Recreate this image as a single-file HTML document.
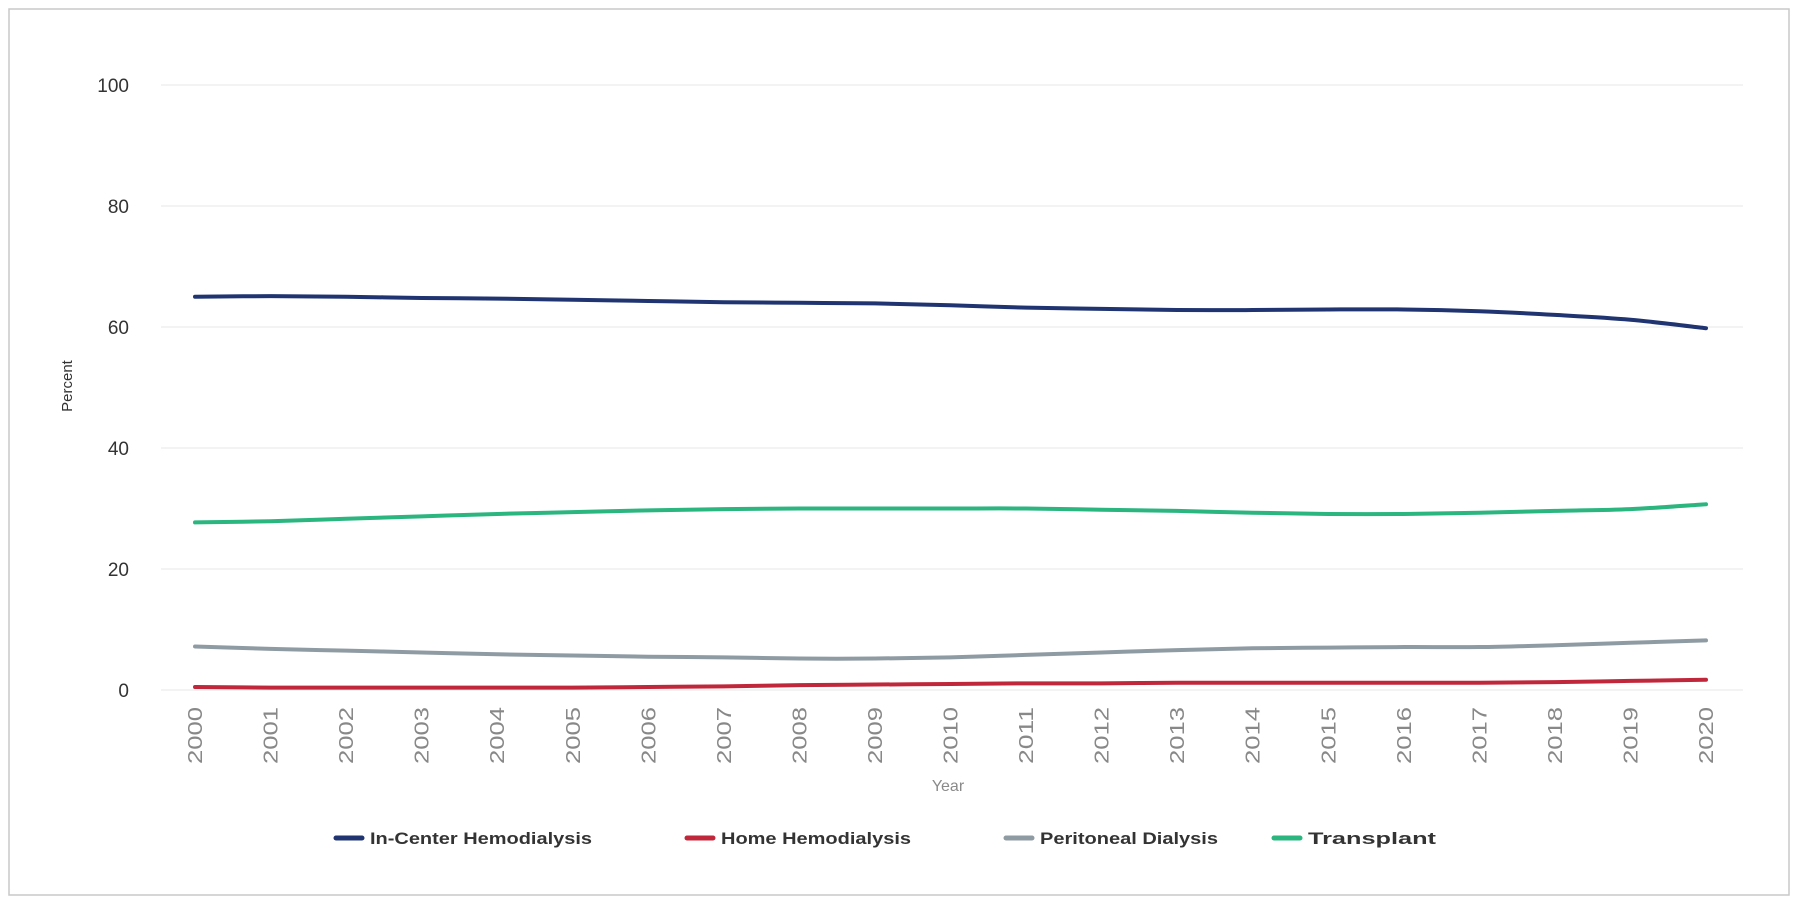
<!DOCTYPE html>
<html><head><meta charset="utf-8"><style>
body{margin:0;background:#fff;}
svg{display:block;font-family:"Liberation Sans",sans-serif;}
</style></head><body>
<svg id="chart" width="1800" height="903">
<rect x="9" y="9" width="1780" height="886" fill="#fff" stroke="#c8c8c8" stroke-width="1.5"/>
<g id="grid"></g>
<g id="yt"></g>
<g id="xt"></g>
<g id="series"></g>
<text x="72" y="386" transform="rotate(-90 72 386)" text-anchor="middle" font-size="15" fill="#333">Percent</text>
<text x="948" y="791" text-anchor="middle" font-size="16" fill="#8a8a8a">Year</text>
<g id="legend"></g>
</svg>
<script>
const years=[2000,2001,2002,2003,2004,2005,2006,2007,2008,2009,2010,2011,2012,2013,2014,2015,2016,2017,2018,2019,2020];
const yTicks=[0,20,40,60,80,100];
const inCenter=[65,65.1,65,64.8,64.7,64.5,64.3,64.1,64,63.9,63.6,63.2,63,62.8,62.8,62.9,62.9,62.6,62,61.2,59.8];
const transplant=[27.7,27.9,28.3,28.7,29.1,29.4,29.7,29.9,30,30,30,30,29.8,29.6,29.3,29.1,29.1,29.3,29.6,29.9,30.7];
const peritoneal=[7.2,6.8,6.5,6.2,5.9,5.7,5.5,5.4,5.2,5.2,5.4,5.8,6.2,6.6,6.9,7,7.1,7.1,7.4,7.8,8.2];
const homeHemo=[0.5,0.4,0.4,0.4,0.4,0.4,0.5,0.6,0.8,0.9,1,1.1,1.1,1.2,1.2,1.2,1.2,1.2,1.3,1.5,1.7];
const seriesNames=["In-Center Hemodialysis","Home Hemodialysis","Peritoneal Dialysis","Transplant"];
const NS="http://www.w3.org/2000/svg";
const x=i=>195+i*(1706-195)/(years.length-1);
const y=v=>690-v*(690-85)/100;
function mk(t,a,p){const e=document.createElementNS(NS,t);for(const k in a)e.setAttribute(k,a[k]);p.appendChild(e);return e;}
const grid=document.getElementById('grid'),yt=document.getElementById('yt'),xt=document.getElementById('xt');
yTicks.forEach(v=>{
 const l=mk('line',{x1:161,x2:1743,y1:y(v),y2:y(v),stroke:'#ececec','stroke-width':1.2},grid);
 
 
 const t=mk('text',{x:129,y:y(v)+7,'text-anchor':'end','font-size':19,fill:'#333'},yt);
 t.textContent=v;
 
 
});
years.forEach((yr,i)=>{
 const t=mk('text',{x:x(i)+7,y:707,'text-anchor':'end','font-size':20,fill:'#888',textLength:57,lengthAdjust:'spacingAndGlyphs',transform:`rotate(-90 ${x(i)+7} 707)`},xt);
 t.textContent=yr;
 
 
});
const data=[inCenter,homeHemo,peritoneal,transplant];
const colors=["#1f3470","#c0273a","#8f9ba3","#2bb57f"];
const sg=document.getElementById('series');
function smooth(pts){let d=`M${pts[0][0]},${pts[0][1]}`;for(let i=0;i<pts.length-1;i++){const p0=pts[i-1]||pts[i],p1=pts[i],p2=pts[i+1],p3=pts[i+2]||p2;d+=` C${p1[0]+(p2[0]-p0[0])/6},${p1[1]+(p2[1]-p0[1])/6} ${p2[0]-(p3[0]-p1[0])/6},${p2[1]-(p3[1]-p1[1])/6} ${p2[0]},${p2[1]}`;}return d;}
[1,2,3,0].forEach(s=>{
 const p=mk('path',{d:smooth(data[s].map((v,i)=>[x(i),y(v)])),fill:'none',stroke:colors[s],'stroke-width':4,'stroke-linecap':'round'},sg);
 
 
});
const lg=document.getElementById('legend');
const lx=[336,687,1006,1274];
const lw=[222,190,178,128];
seriesNames.forEach((n,i)=>{
 const g=mk('g',{},lg);
 
 
 mk('line',{x1:lx[i],x2:lx[i]+26,y1:838,y2:838,stroke:colors[i],'stroke-width':5,'stroke-linecap':'round'},g);
 const t=mk('text',{x:lx[i]+34,y:844,'font-size':17,'font-weight':'bold',fill:'#333',textLength:lw[i],lengthAdjust:'spacingAndGlyphs'},g);
 t.textContent=n;
});
</script>
</body></html>
